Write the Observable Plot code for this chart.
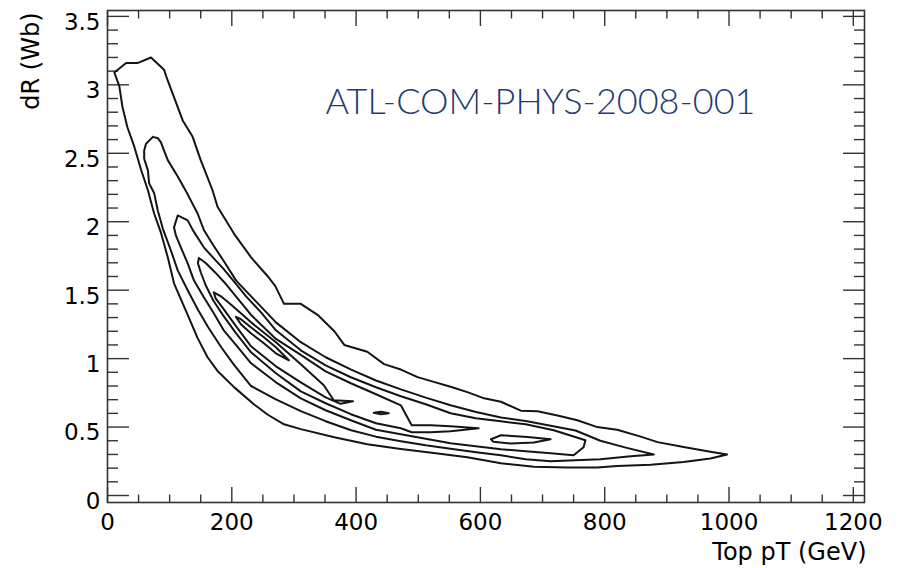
<!DOCTYPE html>
<html><head><meta charset="utf-8">
<script src="https://cdn.jsdelivr.net/npm/d3@7"></script>
<script src="https://cdn.jsdelivr.net/npm/@observablehq/plot@0.6"></script>
<style>body{margin:0;background:#fff;}</style>
</head><body><div id="chart"></div>
<script>
// ---- axis ticks ----
const xMajor = [0,200,400,600,800,1000,1200];
const xMinor = [50,100,150,250,300,350,450,500,550,650,700,750,850,900,950,1050,1100,1150];
const yMajor = [0,0.5,1,1.5,2,2.5,3,3.5];
const yMinor = [0.1,0.2,0.3,0.4,0.6,0.7,0.8,0.9,1.1,1.2,1.3,1.4,1.6,1.7,1.8,1.9,2.1,2.2,2.3,2.4,2.6,2.7,2.8,2.9,3.1,3.2,3.3,3.4];

// ---- contour levels (Top pT [GeV], dR) ----
const c1 = [[11,3.09],[30,3.16],[49,3.16],[70,3.20],[91,3.11],[97,3.03],[107,2.91],[121,2.74],[137,2.62],[150,2.45],[169,2.23],[177,2.11],[204,1.91],[231,1.74],[258,1.60],[270,1.53],[284,1.40],[311,1.40],[338,1.32],[365,1.20],[381,1.10],[418,1.05],[445,0.96],[472,0.92],[499,0.865],[525,0.83],[552,0.795],[579,0.755],[606,0.71],[633,0.685],[665,0.62],[692,0.615],[724,0.585],[756,0.55],[788,0.50],[820,0.48],[858,0.43],[885,0.39],[927,0.355],[970,0.32],[997,0.30],
[970,0.27],[927,0.245],[874,0.225],[820,0.215],[788,0.205],[740,0.205],[686,0.21],[633,0.235],[579,0.28],[525,0.31],[472,0.34],[418,0.375],[365,0.425],[311,0.485],[284,0.52],[258,0.59],[236,0.665],[204,0.79],[177,0.91],[161,1.01],[145,1.15],[129,1.32],[107,1.55],[97,1.74],[86,1.92],[75,2.06],[65,2.23],[54,2.38],[43,2.55],[32,2.69],[24,2.84],[19,2.99],[11,3.09]];
const c2 = [[73,2.62],[81,2.61],[86,2.58],[91,2.52],[97,2.45],[113,2.33],[129,2.20],[145,2.06],[155,1.94],[170,1.83],[186,1.72],[207,1.57],[231,1.455],[271,1.265],[311,1.12],[351,1.01],[392,0.92],[432,0.84],[472,0.775],[512,0.715],[552,0.66],[593,0.61],[633,0.57],[673,0.545],[713,0.51],[753,0.475],[793,0.40],[834,0.35],[879,0.30],
[842,0.287],[793,0.265],[753,0.258],[713,0.25],[673,0.265],[633,0.294],[593,0.316],[552,0.342],[512,0.367],[472,0.397],[432,0.43],[392,0.477],[351,0.543],[311,0.616],[271,0.703],[231,0.80],[203,0.958],[183,1.083],[162,1.229],[146,1.353],[129,1.50],[113,1.645],[102,1.79],[89,1.95],[81,2.08],[75,2.21],[67,2.28],[65,2.375],[59,2.46],[59,2.52],[62,2.57],[73,2.62]];
const c3 = [[113,2.046],[129,2.01],[137.5,1.937],[155,1.813],[171,1.732],[186,1.659],[202,1.572],[223,1.455],[247,1.338],[271,1.207],[311,1.061],[351,0.951],[391.5,0.864],[432,0.791],[472,0.725],[512,0.667],[552,0.601],[592.5,0.564],[633,0.542],[673,0.52],[718,0.477],[769,0.404],[766,0.353],[750,0.294],
[713,0.309],[673,0.323],[633,0.338],[592.5,0.36],[552,0.382],[512,0.415],[472,0.448],[432,0.48],[391.5,0.55],[351,0.623],[311,0.71],[271,0.827],[231,0.966],[210,1.082],[187,1.207],[171,1.331],[155,1.448],[139,1.572],[129,1.696],[118,1.813],[110,1.90],[107,1.959],[113,2.046]];
const c4 = [[147,1.735],[158,1.698],[174,1.626],[190.5,1.545],[231,1.319],[271,1.144],[311,1.027],[351,0.907],[391.5,0.82],[432,0.74],[472,0.659],[481.5,0.579],[489.5,0.513],[520,0.513],[552,0.506],[597,0.491],
[552,0.47],[520,0.462],[489.5,0.462],[472,0.491],[432,0.528],[391.5,0.594],[351,0.674],[311,0.761],[271,0.893],[231,1.046],[207,1.185],[186,1.316],[170,1.426],[158,1.536],[150,1.631],[145.5,1.697],[147,1.735]];
const c4b = [[617,0.411],[633,0.44],[676,0.428],[713,0.411],[686,0.387],[649,0.38],[621,0.392],[617,0.411]];
const c5 = [[171,1.484],[182.5,1.455],[198.5,1.396],[214.6,1.331],[231,1.265],[271,1.119],[311,0.958],[348,0.805],[364,0.696],[395,0.688],
[375,0.67],[351,0.717],[311,0.827],[271,0.944],[231,1.09],[207,1.236],[186,1.367],[174,1.44],[171,1.484]];
const c5b = [[428.5,0.604],[440,0.612],[452.6,0.601],[440,0.593],[428.5,0.604]];
const c6 = [[206.6,1.305],[214.6,1.288],[230.7,1.229],[251.6,1.156],[270.9,1.083],[291.8,0.988],[270.9,1.039],[251.6,1.112],[230.7,1.185],[214.6,1.251],[206.6,1.305]];

const contours = {c1, c2, c3, c4, c4b, c5, c5b, c6};
const rows = Object.entries(contours).flatMap(([id, pts]) => pts.map(([x, y]) => ({id, x, y})));

const font = "DejaVu Sans";
const tickStyle = {stroke: "#333", strokeWidth: 1.4, fill: "none", label: null};

const chart = Plot.plot({
  width: 902,
  height: 568,
  marginLeft: 107,
  marginRight: 38,
  marginTop: 10,
  marginBottom: 66,
  style: {fontFamily: font, fontSize: "23px", color: "#000", background: "#fff", overflow: "visible"},
  x: {domain: [0, 1218], label: null},
  y: {domain: [-0.051, 3.543], label: null},
  marks: [
    Plot.frame({stroke: "#333", strokeWidth: 1.6}),
    // inward ticks, all four sides
    Plot.axisX(xMajor, {anchor: "bottom", tickSize: 15, dy: -15, ...tickStyle}),
    Plot.axisX(xMinor, {anchor: "bottom", tickSize: 7.5, dy: -7.5, ...tickStyle}),
    Plot.axisX(xMajor, {anchor: "top", tickSize: 15, dy: 15, ...tickStyle}),
    Plot.axisX(xMinor, {anchor: "top", tickSize: 7.5, dy: 7.5, ...tickStyle}),
    Plot.axisY(yMajor, {anchor: "left", tickSize: 22, dx: 22, ...tickStyle}),
    Plot.axisY(yMinor, {anchor: "left", tickSize: 11, dx: 11, ...tickStyle}),
    Plot.axisY(yMajor, {anchor: "right", tickSize: 22, dx: -22, ...tickStyle}),
    Plot.axisY(yMinor, {anchor: "right", tickSize: 11, dx: -11, ...tickStyle}),
    // tick labels
    Plot.axisX(xMajor, {anchor: "bottom", tickSize: 0, tickPadding: 11, label: null, fontSize: 23, fill: "#000", tickFormat: d => String(d)}),
    Plot.axisY(yMajor, {anchor: "left", tickSize: 0, tickPadding: 7, dy: 6, label: null, fontSize: 23, fill: "#000", tickFormat: d => String(d)}),
    // contours
    Plot.line(rows, {x: "x", y: "y", z: "id", stroke: "#141414", strokeWidth: 2, strokeLinejoin: "round"}),
    // titles
    Plot.text(["dR (Wb)"], {text: d => d, frameAnchor: "top-left", rotate: -90, textAnchor: "end", lineAnchor: "bottom", dx: -69, dy: 2, fontSize: 24, fill: "#000"}),
    Plot.text(["Top pT (GeV)"], {text: d => d, frameAnchor: "bottom-right", textAnchor: "end", lineAnchor: "bottom", dx: 2, dy: 57, fontSize: 24, fill: "#000"}),
    Plot.text(["ATL-COM-PHYS-2008-001"], {text: d => d, frameAnchor: "top-left", textAnchor: "start", lineAnchor: "bottom", dx: 218, dy: 103, fontSize: 36, fontFamily: "Lato", fontWeight: 300, fill: "#1f3b73"})
  ]
});
document.getElementById("chart").appendChild(chart);
</script>
</body></html>
